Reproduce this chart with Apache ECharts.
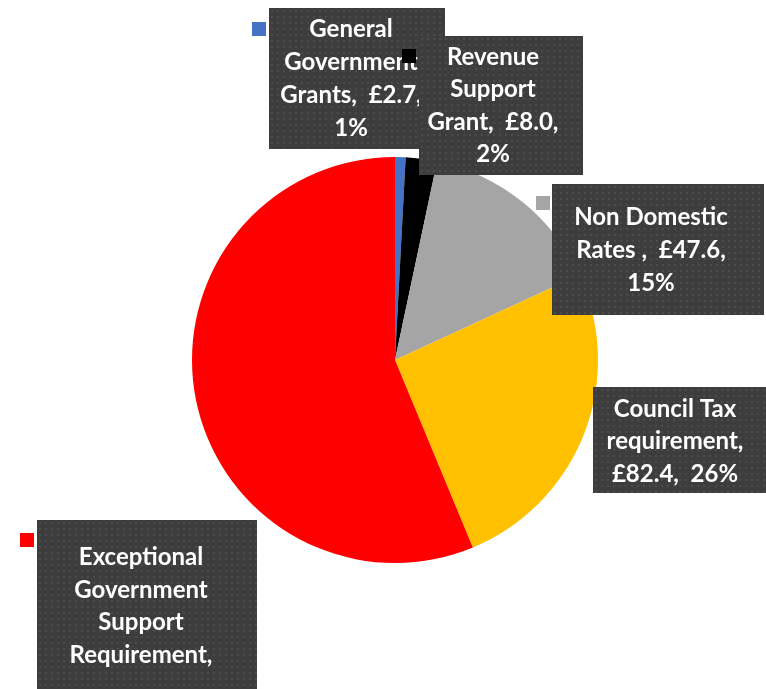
<!DOCTYPE html>
<html>
<head>
<meta charset="utf-8">
<script src="https://cdn.jsdelivr.net/npm/echarts@6/dist/echarts.min.js"></script>
<style>
html, body { margin: 0; padding: 0; background: #fff; }
#chart { width: 766px; height: 689px; }
</style>
</head>
<body>
<div id="chart"></div>
<script>
// funding sources (£m), clockwise from 12 o'clock
var names = ['General Government Grants', 'Revenue Support Grant', 'Non Domestic Rates ', 'Council Tax requirement', 'Exceptional Government Support Requirement']
var values = [2.7, 8.0, 47.6, 82.4, 181.0]
var colors = ['#4472C4', '#000000', '#A5A5A5', '#FFC000', '#FF0000']
// label wrapping as it was in the original, {v} = value, {p} = percent
var labelLines = [
  ['General', 'Government', 'Grants,  {v},', '{p}'],
  ['Revenue', 'Support', 'Grant,  {v},', '{p}'],
  ['Non Domestic', 'Rates ,  {v},', '{p}'],
  ['Council Tax', 'requirement,', '{v},  {p}'],
  ['Exceptional', 'Government', 'Support', 'Requirement,', '{v},  {p}']
]

// label boxes (placed by hand in the original)
var boxes = [
  { left: 269, top: 8, w: 164, pad: [5, 12, 4, 0], lh: 33 },
  { left: 419, top: 36, w: 148, pad: [5, 16, 4, 0], lh: 32.5 },
  { left: 552, top: 184, w: 198, pad: [17, 14, 15, 0], lh: 33 },
  { left: 593, top: 387, w: 164, pad: [6, 14, 2, 0], lh: 32.5 },
  { left: 37, top: 520, w: 208, pad: [21, 12, 0, 0], lh: 32.7, h: 150 }
]
// little legend keys next to each box
var keys = [[252, 22], [402, 49], [536, 196], [576, 400], [20, 533]]

// dark dotted fill like the excel label style
function dotPattern(w, h) {
  var c = document.createElement('canvas')
  c.width = w
  c.height = h
  var ctx = c.getContext('2d')
  ctx.fillStyle = '#3d3d3d'
  ctx.fillRect(0, 0, w, h)
  ctx.fillStyle = '#4b4b4b'
  for (var y = 2; y < h; y += 6) {
    for (var x = 2; x < w; x += 6) {
      ctx.fillRect(x, y, 2, 2)
    }
  }
  return c
}

var myChart = echarts.init(document.getElementById('chart'))

var mainData = values.map(function (v, i) {
  var b = boxes[i]
  var lbl = { width: b.w, padding: b.pad, lineHeight: b.lh }
  if (b.h) {
    lbl.height = b.h
    lbl.lineOverflow = 'truncate'
  }
  var bw = b.w + b.pad[1] + b.pad[3]
  var bh = (b.h || b.lh * labelLines[i].length) + b.pad[0] + b.pad[2]
  lbl.backgroundColor = { image: dotPattern(Math.round(bw), Math.round(bh)) }
  return { name: names[i], value: v, itemStyle: { color: colors[i] }, label: lbl }
})

var keyData = values.map(function (v, i) {
  return {
    name: names[i],
    value: v,
    label: { rich: { k: { width: 14, height: 14, backgroundColor: colors[i] } } }
  }
})

var option = {
  animation: false,
  series: [
    {
      type: 'pie',
      center: [395, 360],
      radius: 203,
      startAngle: 90,
      avoidLabelOverlap: false,
      silent: true,
      data: mainData,
      labelLine: { show: false },
      label: {
        show: true,
        formatter: function (p) {
          return labelLines[p.dataIndex].join('\n')
            .replace('{v}', '£' + p.value.toFixed(1))
            .replace('{p}', Math.round(p.percent) + '%')
        },
        color: '#fff',
        fontFamily: 'Lato',
        fontWeight: 'bold',
        fontSize: 24,
        align: 'center',
        shadowColor: 'rgba(0,0,0,0.45)',
        shadowBlur: 6,
        shadowOffsetX: 3,
        shadowOffsetY: 4
      },
      labelLayout: function (params) {
        var b = boxes[params.dataIndex]
        return {
          x: b.left + (b.w + b.pad[1] + b.pad[3]) / 2,
          y: b.top,
          align: 'center',
          verticalAlign: 'top'
        }
      }
    },
    {
      // transparent copy just to carry the legend keys
      type: 'pie',
      center: [395, 360],
      radius: 203,
      startAngle: 90,
      avoidLabelOverlap: false,
      silent: true,
      z: 3,
      itemStyle: { color: 'rgba(0,0,0,0)' },
      data: keyData,
      labelLine: { show: false },
      label: {
        show: true,
        formatter: '{k|}'
      },
      labelLayout: function (params) {
        var k = keys[params.dataIndex]
        return { x: k[0], y: k[1], align: 'left', verticalAlign: 'top' }
      }
    }
  ]
}

myChart.setOption(option)
window.onresize = function () {
  myChart.resize()
}
</script>
</body>
</html>
